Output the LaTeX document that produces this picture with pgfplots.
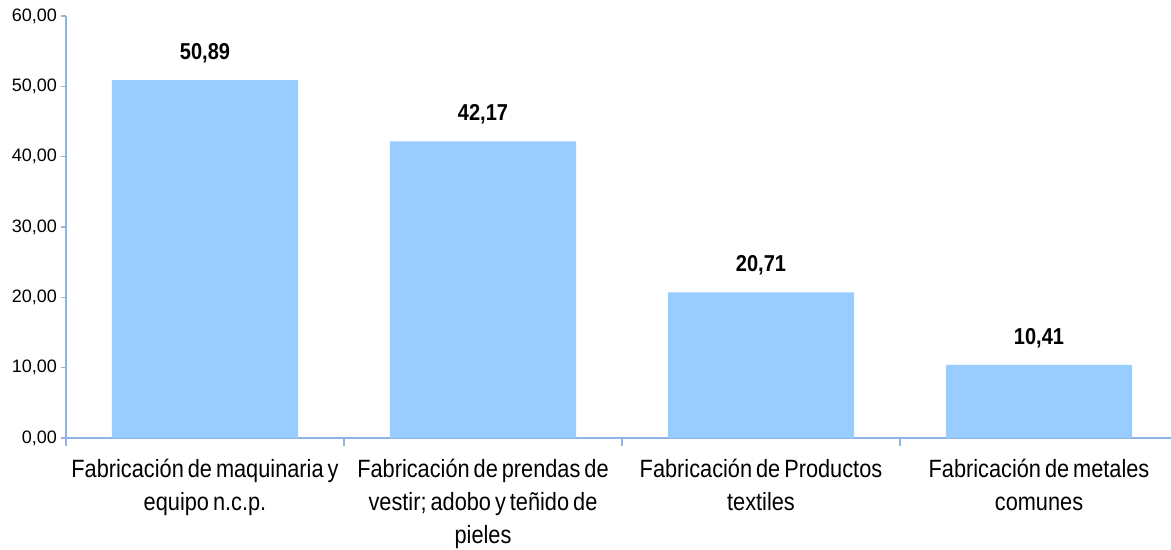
\documentclass[border=0pt]{standalone}
\usepackage{fontspec}
\setmainfont{Liberation Sans}
\newfontfamily\narrowfont{Liberation Sans}[FakeStretch=0.87]
\usepackage{pgfplots}
\pgfplotsset{compat=1.18}

\definecolor{barblue}{HTML}{99CCFF}
\definecolor{axblue}{HTML}{8EB4E3}

\begin{document}
\begin{tikzpicture}
\path[use as bounding box] (0,0) rectangle (585.5pt,275pt);
\begin{axis}[
    at={(33pt,56pt)}, anchor=south west,
    scale only axis,
    width=556pt, height=211pt,
    ymin=0, ymax=60,
    xmin=-0.5, xmax=3.5,
    axis x line=bottom, axis y line=left,
    axis line style={-, draw=axblue, line width=0.8pt},
    ytick={0,10,...,60},
    xtick={0,1,2,3},
    xticklabels={
      {Fabricación de maquinaria y\\equipo n.c.p.},
      {Fabricación de prendas de\\vestir; adobo y teñido de\\pieles},
      {Fabricación de Productos\\textiles},
      {Fabricación de metales\\comunes}},
    minor xtick={-0.5,0.5,1.5,2.5,3.5},
    major x tick style={draw=none},
    minor x tick style={draw=axblue, line width=0.8pt},
    minor tick length=4pt,
    y tick style={draw=axblue, line width=0.8pt},
    major tick length=2.5pt,
    tick align=outside,
    xticklabel style={align=center,
      font={\narrowfont\fontsize{12.5}{16.5}\selectfont\spaceskip=0.16em\relax},
      yshift=-4.5pt},
    yticklabel style={font=\fontsize{9}{10}\selectfont, xshift=1.5pt},
    /pgf/number format/.cd, use comma, fixed, fixed zerofill, precision=2,
    assume math mode=true,
]
\addplot[ybar, bar width=0.67, fill=barblue, draw=none,
    nodes near coords,
    every node near coord/.append style={
      font=\narrowfont\bfseries\fontsize{11.5}{13}\selectfont,
      text=black, yshift=5pt,
      /pgf/number format/.cd, use comma, fixed, fixed zerofill, precision=2,
      assume math mode=true}]
  coordinates {(0,50.89) (1,42.17) (2,20.71) (3,10.41)};
\end{axis}
\end{tikzpicture}
\end{document}
